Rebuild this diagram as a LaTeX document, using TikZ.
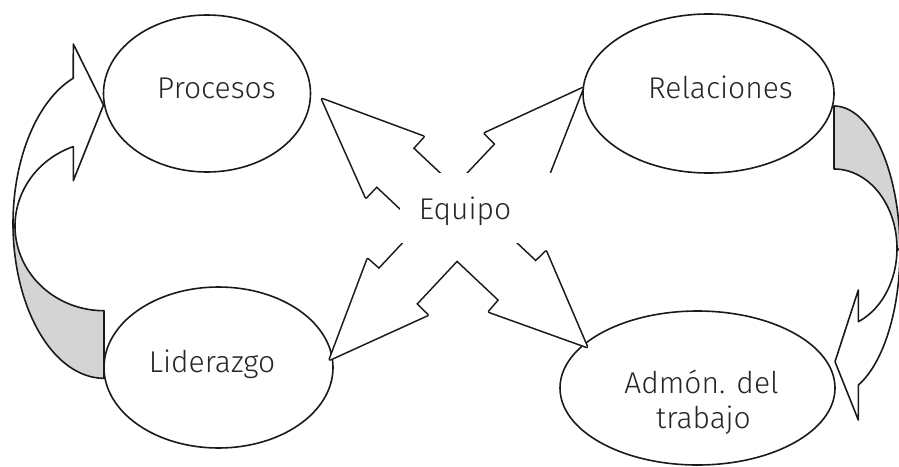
\documentclass[tikz,border=0pt]{standalone}
\usepackage{fontspec}
\setmainfont{Fira Sans}[UprightFont=* Light]
\usetikzlibrary{shapes.geometric}
\definecolor{ink}{HTML}{1A1A1A}
\definecolor{txt}{HTML}{262626}
\definecolor{shade}{RGB}{212,212,212}
\begin{document}
\begin{tikzpicture}[x=1pt,y=-1pt,
  ell/.style={draw=ink, line width=1.6pt, ellipse, fill=white, inner sep=0pt},
  lbl/.style={font=\fontsize{30}{36}\selectfont, text=txt, inner sep=0pt, anchor=base},
  band/.style={draw=ink, line width=1.6pt, line join=round},
  blockout/.style={draw=ink, line width=3.2pt, line join=round},
  blockin/.style={fill=white}]
\useasboundingbox (0,0) rectangle (899,466);
\clip (0,0) rectangle (899,466);

% ellipses
\node[ell, minimum width=207pt, minimum height=157pt] (procesos) at (207,93.5) {};
\node[ell, minimum width=251pt, minimum height=159pt] (relaciones) at (708.5,93.5) {};
\node[ell, minimum width=229pt, minimum height=161pt] (liderazgo) at (218.5,367.5) {};
\node[ell, minimum width=275pt, minimum height=154pt] (admon) at (697.5,388) {};

% left curved arrow (Liderazgo -> Procesos)
\filldraw[band, fill=shade]
  plot[domain=180:90, samples=60] ({104+91*cos(\x)},{223.7+154.6*sin(\x)})
  -- plot[domain=90:180, samples=60] ({104+89*cos(\x)},{226.05+84.65*sin(\x)})
  -- cycle;
\filldraw[band, fill=white]
  plot[domain=180:250.28, samples=60] ({104+91*cos(\x)},{223.7+154.6*sin(\x)})
  -- (73.3,44) -- (103.5,105) -- (73.3,180.7)
  -- plot[domain=249.82:180, samples=60] ({104+89*cos(\x)},{226.05+84.65*sin(\x)})
  -- cycle;

% right curved arrow (Relaciones -> Admon)
\filldraw[band, fill=shade]
  plot[domain=-90:0, samples=60] ({834+66*cos(\x)},{250.6+144.6*sin(\x)})
  -- plot[domain=0:-90, samples=60] ({834+63*cos(\x)},{248.4+79.4*sin(\x)})
  -- cycle;
\filldraw[band, fill=white]
  plot[domain=0:68.40, samples=60] ({834+66*cos(\x)},{250.6+144.6*sin(\x)})
  -- (858.3,420) -- (835,361.7) -- (858.3,290)
  -- plot[domain=67.31:0, samples=60] ({834+63*cos(\x)},{248.4+79.4*sin(\x)})
  -- cycle;

% four block arrows from the centre (union outline)
\draw[blockout] (322.3,99.3) -- (423.3,136.7) -- (412.7,148.3) -- (456.4,189.4) -- (420.4,227.1) -- (376.7,186) -- (366,197.3) -- cycle;
\draw[blockout] (582.7,88.3) -- (485,133.3) -- (495.7,144) -- (454.5,187.7) -- (491.4,221.7) -- (532.6,178) -- (543.5,188.2) -- cycle;
\draw[blockout] (330,359.3) -- (367.7,259.3) -- (379,269.3) -- (440.5,203.6) -- (477.5,238.3) -- (416,304) -- (427.3,315) -- cycle;
\draw[blockout] (586.7,346.7) -- (489.3,311.7) -- (499.3,300) -- (433.8,238.3) -- (470.2,200) -- (535.7,261.7) -- (546,251.7) -- cycle;
\fill[blockin] (322.3,99.3) -- (423.3,136.7) -- (412.7,148.3) -- (456.4,189.4) -- (420.4,227.1) -- (376.7,186) -- (366,197.3) -- cycle;
\fill[blockin] (582.7,88.3) -- (485,133.3) -- (495.7,144) -- (454.5,187.7) -- (491.4,221.7) -- (532.6,178) -- (543.5,188.2) -- cycle;
\fill[blockin] (330,359.3) -- (367.7,259.3) -- (379,269.3) -- (440.5,203.6) -- (477.5,238.3) -- (416,304) -- (427.3,315) -- cycle;
\fill[blockin] (586.7,346.7) -- (489.3,311.7) -- (499.3,300) -- (433.8,238.3) -- (470.2,200) -- (535.7,261.7) -- (546,251.7) -- cycle;

% centre label box
\node[fill=white, inner sep=0pt, minimum width=160pt, minimum height=70pt] (equipobox) at (480,208) {};

% labels
\node[lbl] (tproc) at (216.5,98) {Procesos};
\node[lbl] (trel) at (720.5,98) {Relaciones};
\node[lbl] (tequipo) at (465,219) {Equipo};
\node[lbl] (tlid) at (212,372) {Liderazgo};
\node[lbl] (tadm1) at (701.5,393) {Admón. del};
\node[lbl] (tadm2) at (703.5,428) {trabajo};
\end{tikzpicture}
\end{document}
